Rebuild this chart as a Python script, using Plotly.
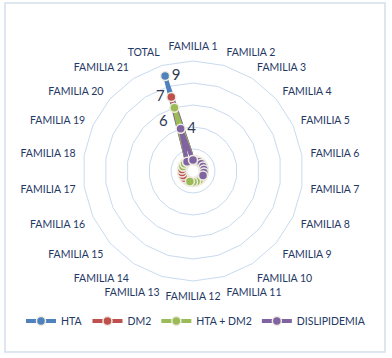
import plotly.graph_objects as go

categories = [f"FAMILIA {i}" for i in range(1, 22)] + ["TOTAL"]

# values per family (blank = gap) and TOTAL at the end
hta = [1, 1, 1, 1, 1, 1, 1, 1, 1, 1, 1, 1, 1, 1, 1, 1, 1, 1, 1, 1, 1, 9]
dm2 = [1, 1, 1, 1, 1, 1, 1, 1, 1, 1, 1, 1, 1, 1, 1, 1, 1, 1, 1, 1, 1, 7]
hta_dm2 = [1, 1, 1, 1, 1, 1, 1, 1, 1, 1, 1, 1, 1, None, None, None, None, None, 1, 1, 1, 6]
dislip = [1, 1, 1, 1, 1, 1, 1, 1, None, None, None, None, None, None, None, None, None, None, None, None, 1, 4]

series_names = ["HTA", "DM2", "HTA + DM2", "DISLIPIDEMIA"]
series_values = [hta, dm2, hta_dm2, dislip]
series_colors = ["#4F81BD", "#C0504D", "#9BBB59", "#8064A2"]
label_positions = ["middle right", "middle left", "bottom left", "middle right"]

fig = go.Figure()
for name, vals, col, lpos in zip(series_names, series_values, series_colors, label_positions):
    r = list(vals) + [vals[0]]
    th = list(categories) + [categories[0]]
    text = [""] * len(r)
    text[len(vals) - 1] = str(vals[-1])
    fig.add_trace(go.Scatterpolar(
        r=r, theta=th, name=name, mode="lines+markers+text",
        text=text, textposition=lpos,
        textfont=dict(family="Lato, Carlito, sans-serif", size=15, color="#2E3A55"),
        line=dict(color=col, width=4),
        marker=dict(size=9, color=col, line=dict(color="#EEECE1", width=1.5)),
        connectgaps=False, cliponaxis=False,
    ))

W, H = 392, 358
cx, cy, R = 193, 171, 110
fig.update_layout(
    width=W, height=H,
    margin=dict(l=0, r=0, t=0, b=0, autoexpand=False),
    paper_bgcolor="white",
    font=dict(family="Lato, Carlito, sans-serif", size=10, color="#1F3864"),
    polar=dict(
        domain=dict(x=[(cx - R) / W, (cx + R) / W], y=[(H - cy - R) / H, (H - cy + R) / H]),
        bgcolor="white",
        gridshape="linear",
        radialaxis=dict(range=[0, 10], dtick=2, showticklabels=False, ticks="",
                        showline=False, gridcolor="#C9DAEE", gridwidth=1),
        angularaxis=dict(direction="clockwise", rotation=90, showgrid=False,
                         linecolor="#C9DAEE", linewidth=1, ticks="outside", ticklen=6,
                         tickcolor="rgba(0,0,0,0)",
                         tickfont=dict(size=10.5, color="#1F3864")),
    ),
    legend=dict(orientation="h", x=0.5, xanchor="center", y=(H - 321) / H, yanchor="middle",
                font=dict(size=10.5, color="#1F3864"), itemwidth=30, tracegroupgap=0),
    shapes=[dict(type="rect", xref="paper", yref="paper",
                 x0=5 / W, x1=385 / W, y0=(H - 352) / H, y1=(H - 3) / H,
                 line=dict(color="#D3DEEC", width=1.5), fillcolor="rgba(0,0,0,0)", layer="below")],
)

fig.write_html("out.html", config={"displayModeBar": False},
               post_script="document.body.style.margin='0';document.body.style.overflow='hidden';")
